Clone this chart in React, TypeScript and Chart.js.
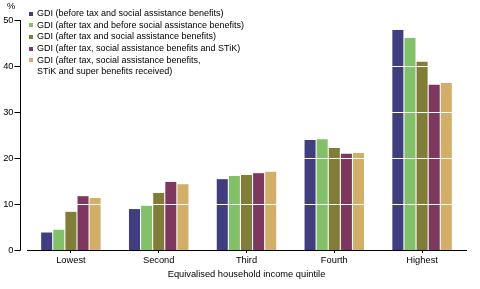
import { useEffect, useRef } from "react";
import { Chart, registerables } from "chart.js";

Chart.register(...registerables);

const categories = ["Lowest", "Second", "Third", "Fourth", "Highest"];
const gdiBeforeTax = [3.8, 8.9, 15.4, 23.9, 47.8];
const gdiAfterTaxBeforeSA = [4.4, 9.6, 16.1, 24.1, 46.1];
const gdiAfterTaxSA = [8.3, 12.4, 16.3, 22.2, 40.9];
const gdiAfterTaxSAStik = [11.7, 14.8, 16.7, 20.9, 35.9];
const gdiAfterAll = [11.3, 14.3, 17.0, 21.1, 36.3];

const seriesLabels: string[][] = [
  ["GDI (before tax and social assistance benefits)"],
  ["GDI (after tax and before social assistance benefits)"],
  ["GDI (after tax and social assistance benefits)"],
  ["GDI (after tax, social assistance benefits and STiK)"],
  ["GDI (after tax, social assistance benefits,", "STiK and super benefits received)"],
];
const seriesColors = ["#403e7e", "#82c069", "#807d38", "#7e375e", "#d2ae68"];
const yTicks = [0, 10, 20, 30, 40, 50];
const yUnit = "%";
const xTitle = "Equivalised household income quintile";

const FONT_FAMILY = '"Liberation Sans", Arial, sans-serif';

const overlayPlugin = {
  id: "overlay",
  afterDatasetsDraw(chart: any) {
    const { ctx, chartArea } = chart;
    const y = chart.scales.y;
    ctx.save();
    ctx.strokeStyle = "#ffffff";
    ctx.lineWidth = 1;
    yTicks.forEach((v) => {
      if (v === 0) return;
      const py = Math.round(y.getPixelForValue(v)) + 0.5;
      ctx.beginPath();
      ctx.moveTo(chartArea.left, py);
      ctx.lineTo(chartArea.right, py);
      ctx.stroke();
    });
    ctx.restore();
  },
  afterDraw(chart: any) {
    const { ctx, chartArea } = chart;
    const y = chart.scales.y;
    ctx.save();
    // y axis line and tick marks
    const ax = chartArea.left - 6.5;
    ctx.strokeStyle = "#000";
    ctx.lineWidth = 1;
    ctx.beginPath();
    ctx.moveTo(ax, y.getPixelForValue(yTicks[yTicks.length - 1]));
    ctx.lineTo(ax, y.getPixelForValue(0) + 0.5);
    ctx.stroke();
    ctx.fillStyle = "#000";
    ctx.font = `9.3px ${FONT_FAMILY}`;
    ctx.textBaseline = "middle";
    yTicks.forEach((v) => {
      const py = Math.round(y.getPixelForValue(v)) + 0.5;
      ctx.beginPath();
      ctx.moveTo(ax - 6, py);
      ctx.lineTo(ax, py);
      ctx.stroke();
      ctx.textAlign = "right";
      ctx.fillText(String(v), 13.5, py);
    });
    // unit label
    ctx.textAlign = "left";
    ctx.fillText(yUnit, 7, 6);
    // legend
    ctx.font = `9px ${FONT_FAMILY}`;
    let row = 0;
    const lineH = 11.7;
    seriesLabels.forEach((lines, i) => {
      const cy = 13.5 + row * lineH;
      ctx.fillStyle = seriesColors[i];
      ctx.fillRect(29, Math.round(cy) - 2, 4, 4);
      ctx.fillStyle = "#000";
      lines.forEach((t, j) => {
        ctx.fillText(t, 37, 13.5 + (row + j) * lineH);
      });
      row += lines.length;
    });
    ctx.restore();
  },
};

export default function App() {
  const canvasRef = useRef<HTMLCanvasElement>(null);

  useEffect(() => {
    document.body.style.margin = "0";
    const canvas = canvasRef.current;
    if (!canvas) return;
    const series = [gdiBeforeTax, gdiAfterTaxBeforeSA, gdiAfterTaxSA, gdiAfterTaxSAStik, gdiAfterAll];
    const chart = new Chart(canvas, {
      type: "bar",
      data: {
        labels: categories,
        datasets: series.map((d, i) => ({
          label: seriesLabels[i].join(" "),
          data: d,
          backgroundColor: seriesColors[i],
          borderWidth: 0,
          categoryPercentage: 0.69,
          barPercentage: 0.91,
        })),
      },
      options: {
        animation: false,
        responsive: false,
        maintainAspectRatio: false,
        layout: { padding: { top: 20, right: 14, left: 0, bottom: 0 } },
        plugins: {
          legend: { display: false },
          tooltip: { enabled: false },
        },
        scales: {
          x: {
            grid: {
              display: true,
              drawOnChartArea: false,
              drawTicks: true,
              tickLength: 3,
              tickColor: "#000",
              offset: false,
            },
            border: { display: true, color: "#000", width: 1 },
            ticks: {
              color: "#000",
              font: { family: FONT_FAMILY, size: 9.3 },
              padding: 2,
              maxRotation: 0,
            },
            title: {
              display: true,
              text: xTitle,
              color: "#000",
              font: { family: FONT_FAMILY, size: 9.3 },
              padding: { top: 0, bottom: 9 },
            },
            afterFit: (s: any) => {
              s.height = 39;
            },
          },
          y: {
            min: 0,
            max: 50,
            grid: { display: false },
            border: { display: false },
            ticks: { display: false, stepSize: 10 },
            afterFit: (s: any) => {
              s.width = 27;
            },
          },
        },
      },
      plugins: [overlayPlugin],
    });
    return () => chart.destroy();
  }, []);

  return (
    <div style={{ width: 480, height: 289 }}>
      <canvas ref={canvasRef} width={480} height={289} />
    </div>
  );
}
